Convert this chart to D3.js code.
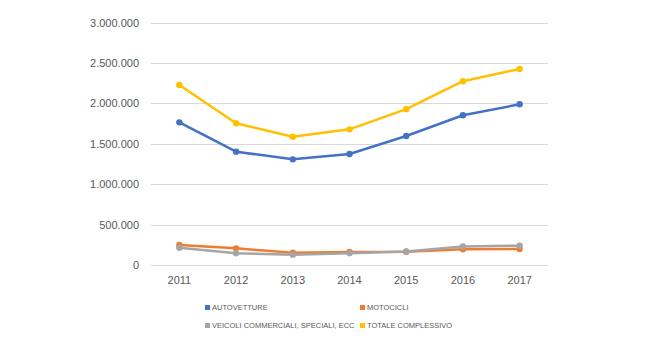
<!DOCTYPE html>
<html>
<head>
<meta charset="utf-8">
<script src="https://cdn.jsdelivr.net/npm/d3@7"></script>
<style>
  body { margin: 0; background: #fff; }
  text { font-family: "Liberation Sans", Arial, sans-serif; fill: #595959; }
</style>
</head>
<body>
<div id="app"></div>
<script>
const years = ['2011', '2012', '2013', '2014', '2015', '2016', '2017'];
const autovetture = [1765000, 1402000, 1307000, 1373000, 1596000, 1852000, 1988000];
const motocicli = [247000, 206000, 152000, 160000, 165000, 194000, 198000];
const veicoli = [214000, 145000, 128000, 145000, 167000, 228000, 239000];
const totale = [2226000, 1753000, 1587000, 1678000, 1928000, 2274000, 2425000];
const yTicks = [0, 500000, 1000000, 1500000, 2000000, 2500000, 3000000];

const series = [
    { name: 'AUTOVETTURE', values: autovetture, color: '#4472C4' },
    { name: 'MOTOCICLI', values: motocicli, color: '#ED7D31' },
    { name: 'VEICOLI COMMERCIALI, SPECIALI, ECC', values: veicoli, color: '#A5A5A5' },
    { name: 'TOTALE COMPLESSIVO', values: totale, color: '#FFC000' }
];

const width = 657;
const height = 348;
const margin = { top: 22.5, right: 109, bottom: 83, left: 151 };

const svg = d3.select('#app').append('svg')
    .attr('width', width).attr('height', height);

const x = d3.scaleBand().domain(years)
    .range([margin.left, width - margin.right]);
const y = d3.scaleLinear().domain([0, 3000000])
    .range([height - margin.bottom, margin.top]);

const fmt = v => d3.format(',')(v).replace(/,/g, '.');

// gridlines
svg.append('g').selectAll('line').data(yTicks).join('line')
    .attr('x1', margin.left).attr('x2', width - margin.right)
    .attr('y1', d => Math.round(y(d)) + 0.5).attr('y2', d => Math.round(y(d)) + 0.5)
    .attr('stroke', '#D9D9D9').attr('stroke-width', 1);

svg.append('g').selectAll('text').data(yTicks).join('text')
    .attr('x', margin.left - 12)
    .attr('y', d => y(d) + 4)
    .attr('text-anchor', 'end')
    .attr('font-size', 11)
    .text(fmt);

svg.append('g').selectAll('text').data(years).join('text')
    .attr('x', d => x(d) + x.bandwidth() / 2)
    .attr('y', height - margin.bottom + 19)
    .attr('text-anchor', 'middle')
    .attr('font-size', 11)
    .text(d => d);

const line = d3.line()
    .x((d, i) => x(years[i]) + x.bandwidth() / 2)
    .y(d => y(d));

series.forEach(s => {
    const g = svg.append('g');
    g.append('path')
        .attr('d', line(s.values))
        .attr('fill', 'none')
        .attr('stroke', s.color)
        .attr('stroke-width', 2.5)
        .attr('stroke-linejoin', 'round');
    g.selectAll('circle').data(s.values).join('circle')
        .attr('cx', (d, i) => x(years[i]) + x.bandwidth() / 2)
        .attr('cy', d => y(d))
        .attr('r', 3.2)
        .attr('fill', s.color);
});

// legend
const legendPos = [[205, 310], [360, 310], [205, 328], [360, 328]];
const legend = svg.append('g').selectAll('g').data(series).join('g')
    .attr('transform', (d, i) => `translate(${legendPos[i][0]},${legendPos[i][1]})`);
legend.append('rect')
    .attr('x', 0).attr('y', -5).attr('width', 5).attr('height', 5)
    .attr('fill', d => d.color);
legend.append('text')
    .attr('x', 7).attr('y', 0)
    .attr('font-size', 7.5)
    .text(d => d.name);
</script>
</body>
</html>
